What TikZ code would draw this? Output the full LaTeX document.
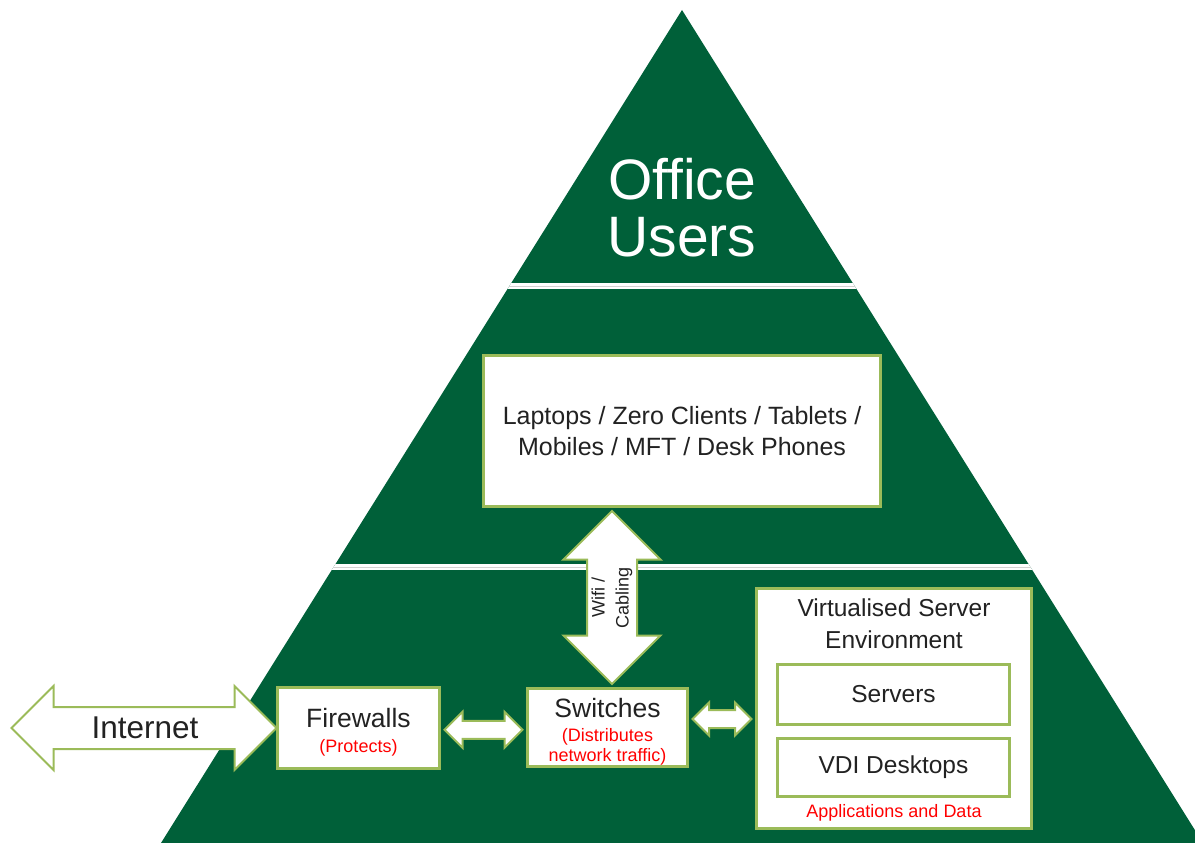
\documentclass[tikz,border=0pt]{standalone}
\usepackage{fontspec}
\setmainfont{Liberation Sans}
\usetikzlibrary{shapes.arrows,calc}
\definecolor{pgreen}{RGB}{0,96,57}
\definecolor{lgreen}{RGB}{155,187,89}
\definecolor{txt}{RGB}{34,34,34}
\definecolor{redt}{RGB}{255,0,0}
\begin{document}
\begin{tikzpicture}[x=1pt,y=-1pt,
  box/.style={draw=lgreen,line width=3pt,fill=white,inner sep=0pt,align=center,text=txt},
  inbox/.style={draw=lgreen,line width=2.5pt,fill=white,inner sep=0pt,align=center,text=txt,font=\fontsize{24.5}{30}\selectfont},
  darr/.style={double arrow,draw=lgreen,line width=2pt,fill=white,inner xsep=0pt,double arrow tip angle=90},
  redlbl/.style={text=redt,inner sep=0pt,align=center},
  sep/.style={white,line width=6pt}]
\useasboundingbox (0,0) rectangle (1195,843);
\begin{scope}
\clip (0,0) rectangle (1195,843);
\fill[pgreen] (682,10) -- (1203,843) -- (161,843) -- cycle;
\clip (682,10) -- (1203,843) -- (161,843) -- cycle;
\draw[sep] (0,286) -- (1195,286);
\draw[gray!35,line width=0.8pt] (0,286) -- (1195,286);
\draw[sep] (0,567) -- (1195,567);
\draw[gray!35,line width=0.8pt] (0,567) -- (1195,567);
\end{scope}
% title
\node[text=white,font=\fontsize{57}{57}\selectfont,align=center,inner sep=0pt] (title) at (682,208) {Office\\Users};
% boxes
\node[box,minimum width=397pt,minimum height=151pt,font=\fontsize{25}{31}\selectfont] (dev) at (682,431) {Laptops / Zero Clients / Tablets /\\Mobiles / MFT / Desk Phones};
\node[box,minimum width=162pt,minimum height=81pt,font=\fontsize{26.5}{28}\selectfont] (fw) at (358.5,728) {\rule{0pt}{27.5pt}Firewalls\\[-3pt]{\color{redt}\fontsize{18}{20}\selectfont (Protects)}};
\node[box,minimum width=160pt,minimum height=78pt,font=\fontsize{26.5}{28}\selectfont] (sw) at (607.5,727.5) {\rule{0pt}{27.5pt}Switches\\[-4pt]{\color{redt}\fontsize{18}{20}\selectfont (Distributes}\\[-8pt]{\color{redt}\fontsize{18}{20}\selectfont network traffic)}};
\node[box,minimum width=275pt,minimum height=240pt] (vse) at (894,708.5) {};
\node[text=txt,align=center,inner sep=0pt,font=\fontsize{24.5}{32}\selectfont] (vsetitle) at ($(vse.north)+(0,37)$) {Virtualised Server\\Environment};
\node[inbox,minimum width=232pt,minimum height=60pt] (srv) at ($(vse.center)+(-0.5,-14)$) {Servers};
\node[inbox,minimum width=232pt,minimum height=58pt] (vdi) at ($(vse.center)+(-0.5,59)$) {VDI Desktops};
\node[redlbl,font=\fontsize{18}{20}\selectfont] (apps) at ($(vse.south)+(0,-17)$) {Applications and Data};
% arrows
\node[darr,minimum height=265pt,inner ysep=20pt,double arrow head extend=21pt] (inet) at ($(fw.west)+(-132,0)$) {};
\node[text=txt,inner sep=0pt,font=\fontsize{31.5}{34}\selectfont] (inettext) at ($(inet.center)+(1,0)$) {Internet};
\node[darr,minimum height=78pt,inner ysep=8pt,double arrow head extend=9pt] (a1) at ($(fw.east)!0.5!(sw.west)+(0,2)$) {};
\node[darr,minimum height=59pt,inner ysep=8pt,double arrow head extend=7.5pt] (a2) at ($(sw.east)!0.5!(vse.west)+(0,1)$) {};
\node[darr,rotate=90,minimum height=173pt,inner ysep=24pt,double arrow head extend=23.5pt] (wifi) at ($(sw.north)!0.5!(sw.north |- dev.south)+(4.5,0)$) {};
\node[text=txt,rotate=90,align=center,inner sep=0pt,font=\fontsize{18}{24}\selectfont] (wifitext) at (wifi.center) {Wifi /\\Cabling};
\end{tikzpicture}
\end{document}
